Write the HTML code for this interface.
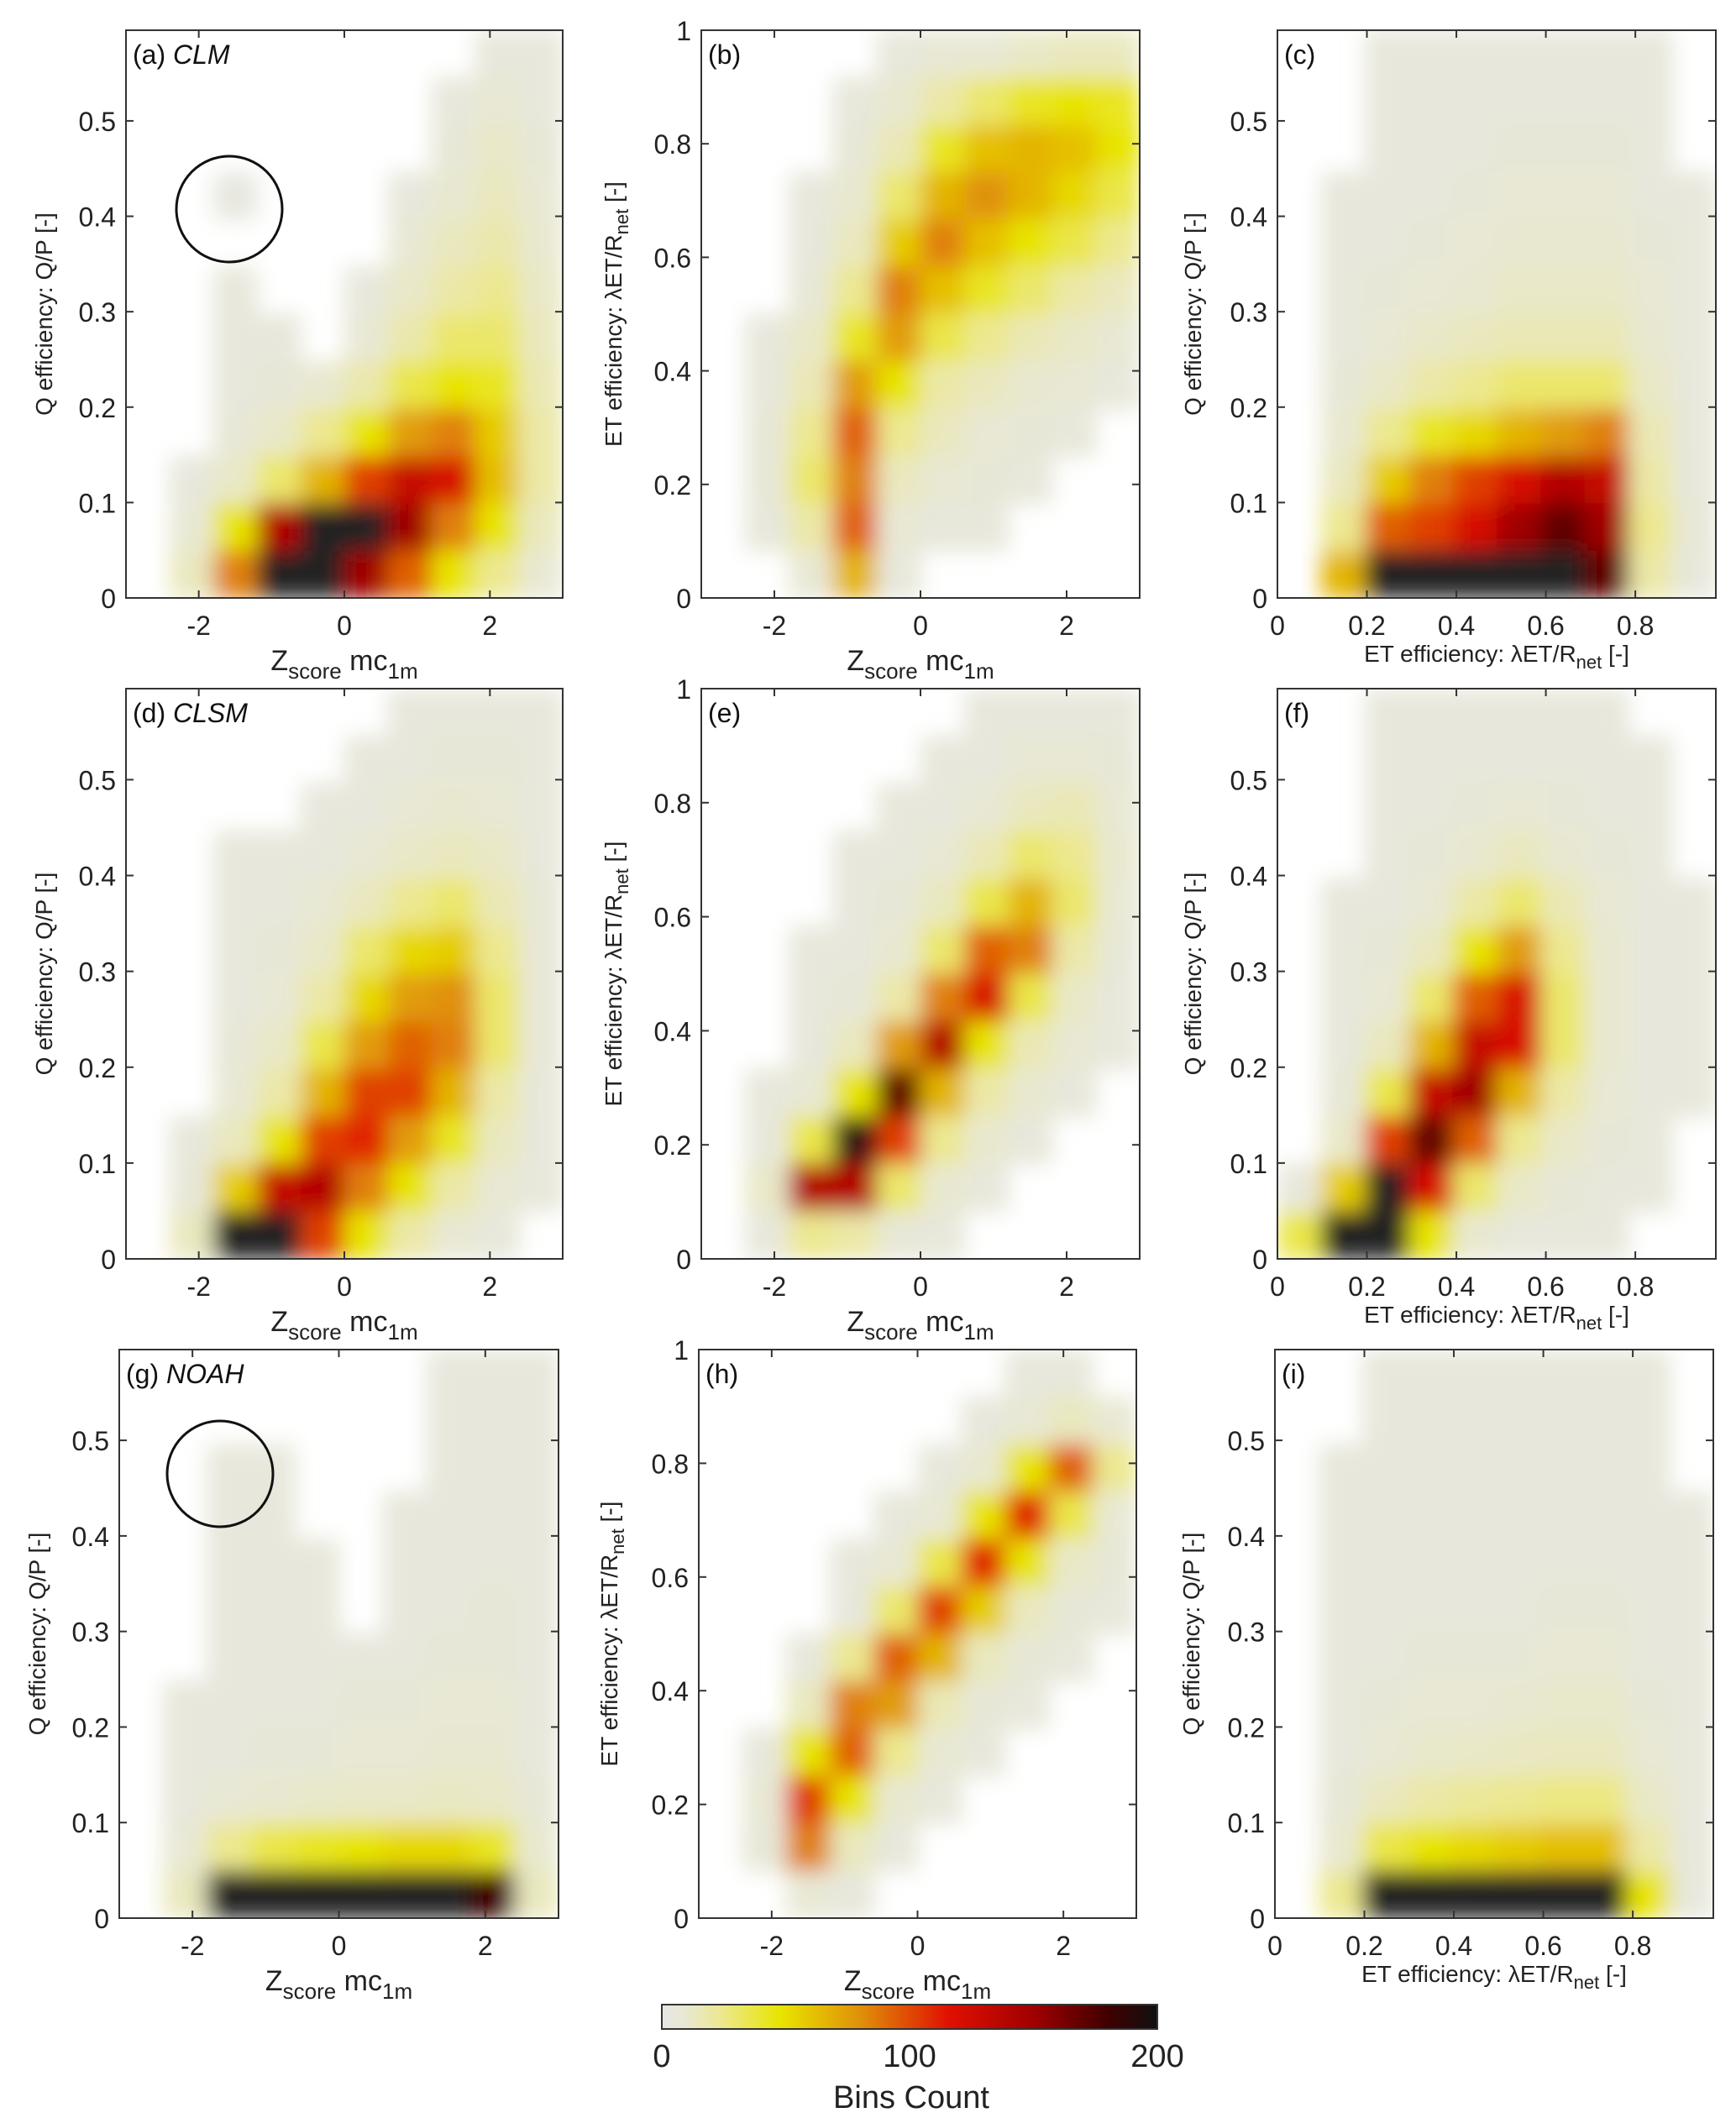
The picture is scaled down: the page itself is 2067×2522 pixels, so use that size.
<!DOCTYPE html>
<html><head><meta charset="utf-8">
<style>
html,body{margin:0;padding:0;background:#fff;}
svg{display:block;font-family:"Liberation Sans","DejaVu Sans",sans-serif;}
</style></head>
<body>
<svg id="fig" width="2067" height="2522" viewBox="0 0 2067 2522" xmlns="http://www.w3.org/2000/svg">
<defs id="defs">
<linearGradient id="cbg" x1="0" x2="1" y1="0" y2="0">
<stop offset="0" stop-color="#e6e6e6"/><stop offset="0.05" stop-color="#e8e8d0"/><stop offset="0.12" stop-color="#ece890"/><stop offset="0.24" stop-color="#e8e400"/><stop offset="0.4" stop-color="#e0900a"/><stop offset="0.58" stop-color="#e01000"/><stop offset="0.75" stop-color="#a00000"/><stop offset="0.9" stop-color="#400000"/><stop offset="1" stop-color="#101010"/>
</linearGradient>
<filter id="soft" x="-5%" y="-5%" width="110%" height="110%"><feGaussianBlur stdDeviation="13"/></filter>
</defs>
</svg>
<script>
// ---- data: bins count grids (rows top->bottom, 10 columns; -1 = no data) ----
const panelA=[[-1,-1,-1,-1,-1,-1,-1,-1,3,3],[-1,-1,-1,-1,-1,-1,-1,3,5,3],[-1,-1,-1,-1,-1,-1,-1,4,8,4],[-1,-1,2,-1,-1,-1,3,6,10,5],[-1,-1,-1,-1,-1,-1,5,10,14,6],[-1,-1,3,-1,-1,3,8,15,20,8],[-1,-1,3,3,-1,5,14,25,25,10],[-1,-1,3,4,6,14,30,40,35,12],[-1,-1,4,8,20,40,70,80,50,15],[-1,3,8,25,60,100,130,120,55,15],[-1,5,40,140,200,200,150,80,40,10],[-1,10,80,200,200,150,90,40,20,5]];
const panelB=[[-1,-1,-1,-1,3,5,5,8,10,10],[-1,-1,-1,3,6,15,25,35,40,35],[-1,-1,-1,4,12,35,55,60,55,40],[-1,-1,3,6,25,60,75,60,45,30],[-1,-1,3,10,50,80,55,40,30,20],[-1,-1,4,20,80,55,35,25,15,10],[-1,3,8,35,70,30,20,12,8,5],[-1,3,12,70,40,15,10,6,5,3],[-1,4,20,90,20,10,5,4,3,-1],[-1,4,25,80,10,5,4,3,-1,-1],[-1,3,15,90,5,3,3,-1,-1,-1],[-1,-1,5,60,3,-1,-1,-1,-1,-1]];
const panelC=[[-1,-1,3,3,3,3,3,3,3,-1],[-1,-1,3,3,3,3,3,3,3,-1],[-1,-1,3,3,3,4,4,4,3,-1],[-1,3,3,3,4,5,5,5,3,3],[-1,3,3,4,5,6,6,6,4,3],[-1,3,4,5,6,8,8,8,5,3],[-1,3,5,8,10,12,12,12,6,3],[-1,4,8,15,20,25,25,25,8,3],[-1,6,20,35,45,60,70,80,12,3],[-1,10,50,80,100,120,140,130,15,3],[-1,20,90,100,120,150,170,150,20,4],[-1,60,200,200,200,200,200,170,15,3]];
const panelD=[[-1,-1,-1,-1,-1,-1,3,3,3,3],[-1,-1,-1,-1,-1,3,3,4,4,3],[-1,-1,-1,-1,3,3,5,6,5,3],[-1,-1,3,3,3,5,8,10,8,3],[-1,-1,3,3,5,10,20,25,12,4],[-1,-1,3,4,8,25,45,50,20,4],[-1,-1,3,5,15,45,70,75,25,4],[-1,-1,4,8,30,70,90,80,25,4],[-1,-1,5,15,60,100,100,60,15,3],[-1,3,10,40,100,110,70,35,10,3],[-1,4,50,130,140,80,40,15,5,3],[-1,10,200,200,100,40,15,5,3,-1]];
const panelE=[[-1,-1,-1,-1,-1,-1,3,3,3,3],[-1,-1,-1,-1,-1,3,3,5,5,4],[-1,-1,-1,-1,3,3,5,10,12,5],[-1,-1,-1,3,3,5,12,25,20,6],[-1,-1,-1,3,4,10,30,60,25,5],[-1,-1,3,3,6,25,90,80,15,4],[-1,-1,3,4,15,80,120,30,8,3],[-1,-1,3,10,70,140,40,12,5,3],[-1,3,5,40,170,60,15,6,3,-1],[-1,3,30,190,100,20,6,3,-1,-1],[-1,8,140,140,25,6,3,-1,-1,-1],[-1,3,20,15,4,3,-1,-1,-1,-1]];
const panelF=[[-1,-1,3,3,3,3,3,3,-1,-1],[-1,-1,3,3,3,3,3,3,3,-1],[-1,-1,3,3,4,5,4,3,3,-1],[-1,-1,3,4,6,10,6,4,3,-1],[-1,3,3,5,15,25,12,5,3,3],[-1,3,4,10,40,70,20,6,3,3],[-1,3,5,25,90,120,25,6,3,3],[-1,3,10,60,130,120,25,6,3,3],[-1,4,30,130,150,60,15,5,3,3],[-1,8,100,170,90,20,8,4,3,-1],[3,50,200,120,25,8,4,3,3,-1],[30,200,200,40,6,3,3,3,-1,-1]];
const panelG=[[-1,-1,-1,-1,-1,-1,-1,3,3,3],[-1,-1,-1,-1,-1,-1,-1,3,3,3],[-1,-1,3,3,-1,-1,-1,3,3,3],[-1,-1,3,3,-1,-1,3,3,3,3],[-1,-1,3,3,3,-1,3,3,3,3],[-1,-1,3,3,3,-1,3,3,4,3],[-1,-1,3,3,3,3,3,4,4,3],[-1,3,3,3,3,4,4,5,5,3],[-1,3,3,4,4,5,5,6,6,3],[-1,3,5,6,7,8,8,9,8,4],[-1,5,20,30,35,40,45,45,35,6],[-1,10,200,200,200,200,200,200,180,10]];
const panelH=[[-1,-1,-1,-1,-1,-1,-1,3,3,-1],[-1,-1,-1,-1,-1,-1,3,5,10,5],[-1,-1,-1,-1,-1,3,6,40,90,20],[-1,-1,-1,-1,3,5,40,110,30,5],[-1,-1,-1,3,5,30,110,40,8,4],[-1,-1,-1,3,25,100,50,10,4,3],[-1,-1,3,20,90,60,10,4,3,-1],[-1,-1,10,80,70,12,4,3,-1,-1],[-1,3,40,90,20,5,3,-1,-1,-1],[-1,5,100,40,6,3,-1,-1,-1,-1],[-1,4,80,10,3,-1,-1,-1,-1,-1],[-1,-1,5,3,-1,-1,-1,-1,-1,-1]];
const panelI=[[-1,-1,3,3,3,3,3,3,3,-1],[-1,-1,3,3,3,3,3,3,3,-1],[-1,3,3,3,3,3,3,3,3,-1],[-1,3,3,3,3,3,3,3,3,3],[-1,3,3,3,3,3,3,3,3,3],[-1,3,3,3,3,3,4,4,3,3],[-1,3,3,4,4,4,5,5,3,3],[-1,3,4,5,5,6,7,7,4,3],[-1,3,5,7,8,9,10,10,5,3],[-1,4,10,15,18,20,22,22,8,3],[-1,6,30,40,45,50,55,55,15,3],[-1,20,200,200,200,200,200,200,40,3]];
const zTicks=[-2,0,2];
const qTicks=[0,0.1,0.2,0.3,0.4,0.5];
const etTicks=[0,0.2,0.4,0.6,0.8,1];
const effTicks=[0,0.2,0.4,0.6,0.8];
const cbTicks=[0,100,200];

const NS="http://www.w3.org/2000/svg";
const svg=document.getElementById('fig');
const defs=document.getElementById('defs');
function mk(tag,attrs,parent){const e=document.createElementNS(NS,tag);for(const k in attrs)e.setAttribute(k,attrs[k]);(parent||svg).appendChild(e);return e;}
const stops=[[0,[230,230,230]],[6,[232,232,208]],[20,[236,232,144]],[40,[232,228,0]],[75,[224,144,10]],[115,[224,16,0]],[150,[160,0,0]],[180,[64,0,0]],[200,[36,36,36]]];
function cmap(v){v=Math.max(0,Math.min(200,v));for(let i=1;i<stops.length;i++){if(v<=stops[i][0]){const a=stops[i-1],b=stops[i];const t=(v-a[0])/(b[0]-a[0]);const c=a[1].map((x,j)=>Math.round(x+(b[1][j]-x)*t));return 'rgb('+c.join(',')+')';}}return 'rgb(36,36,36)';}
function fmt(v){return (Math.abs(v-1)<1e-9)?'1':(v===0?'0':String(+v.toFixed(1)));}

const panels=[
 {id:'a',grid:panelA,L:150,T:36,R:670,B:712,x0:-3,x1:3,y0:0,y1:0.595,xt:zTicks,yt:qTicks,kind:'z',yl:'q',ylx:52,tag:'(a) ',tagI:'CLM'},
 {id:'b',grid:panelB,L:835,T:36,R:1357,B:712,x0:-3,x1:3,y0:0,y1:1,xt:zTicks,yt:etTicks,kind:'z',yl:'et',ylx:730,tag:'(b)',tagI:''},
 {id:'c',grid:panelC,L:1521,T:36,R:2043,B:712,x0:0,x1:0.98,y0:0,y1:0.595,xt:effTicks,yt:qTicks,kind:'e',yl:'q',ylx:1420,tag:'(c)',tagI:''},
 {id:'d',grid:panelD,L:150,T:820,R:670,B:1499,x0:-3,x1:3,y0:0,y1:0.595,xt:zTicks,yt:qTicks,kind:'z',yl:'q',ylx:52,tag:'(d) ',tagI:'CLSM'},
 {id:'e',grid:panelE,L:835,T:820,R:1357,B:1499,x0:-3,x1:3,y0:0,y1:1,xt:zTicks,yt:etTicks,kind:'z',yl:'et',ylx:730,tag:'(e)',tagI:''},
 {id:'f',grid:panelF,L:1521,T:820,R:2043,B:1499,x0:0,x1:0.98,y0:0,y1:0.595,xt:effTicks,yt:qTicks,kind:'e',yl:'q',ylx:1420,tag:'(f)',tagI:''},
 {id:'g',grid:panelG,L:142,T:1607,R:665,B:2284,x0:-3,x1:3,y0:0,y1:0.595,xt:zTicks,yt:qTicks,kind:'z',yl:'q',ylx:44,tag:'(g) ',tagI:'NOAH'},
 {id:'h',grid:panelH,L:832,T:1607,R:1353,B:2284,x0:-3,x1:3,y0:0,y1:1,xt:zTicks,yt:etTicks,kind:'z',yl:'et',ylx:725,tag:'(h)',tagI:''},
 {id:'i',grid:panelI,L:1518,T:1607,R:2040,B:2284,x0:0,x1:0.98,y0:0,y1:0.595,xt:effTicks,yt:qTicks,kind:'e',yl:'q',ylx:1418,tag:'(i)',tagI:''}
];

panels.forEach(p=>{
 const g=mk('g',{});
 
 
 const cp=mk('clipPath',{id:'clip-'+p.id},defs);
 mk('rect',{x:p.L,y:p.T,width:p.R-p.L,height:p.B-p.T},cp);
 const clipG=mk('g',{'clip-path':'url(#clip-'+p.id+')'},g);
 const cells=mk('g',{filter:'url(#soft)'},clipG);
 
 
 const sx=v=>p.L+(v-p.x0)/(p.x1-p.x0)*(p.R-p.L);
 const sy=v=>p.B-(v-p.y0)/(p.y1-p.y0)*(p.B-p.T);
 const rows=p.grid.length, cols=p.grid[0].length;
 const dx=(p.x1-p.x0)/cols, dy=(p.y1-p.y0)/rows;
 p.grid.forEach((row,r)=>row.forEach((v,c)=>{
  if(v<0)return;
  const xa=sx(p.x0+c*dx), xb=sx(p.x0+(c+1)*dx);
  const ya=sy(p.y1-r*dy), yb=sy(p.y1-(r+1)*dy);
  const cell=mk('rect',{x:xa,y:ya,width:xb-xa+0.8,height:yb-ya+0.8,fill:cmap(v)},cells);
  
  
 }));
 const box=mk('rect',{x:p.L,y:p.T,width:p.R-p.L,height:p.B-p.T,fill:'none',stroke:'#333','stroke-width':2},g);
 
 
 p.xt.forEach(t=>{
  const x=sx(t);
  mk('line',{x1:x,x2:x,y1:p.B,y2:p.B-9,stroke:'#333','stroke-width':2},g);
  mk('line',{x1:x,x2:x,y1:p.T,y2:p.T+9,stroke:'#333','stroke-width':2},g);
  const tl=mk('text',{x:x,y:p.B+44,'font-size':32,'text-anchor':'middle',fill:'#222'},g);
  tl.textContent=p.kind==='z'?String(t):fmt(t);
  
  
 });
 p.yt.forEach(t=>{
  const y=sy(t);
  mk('line',{x1:p.L,x2:p.L+9,y1:y,y2:y,stroke:'#333','stroke-width':2},g);
  mk('line',{x1:p.R,x2:p.R-9,y1:y,y2:y,stroke:'#333','stroke-width':2},g);
  const tl=mk('text',{x:p.L-12,y:y+12,'font-size':32,'text-anchor':'end',fill:'#222'},g);
  tl.textContent=fmt(t);
  
  
 });
 const cx=(p.L+p.R)/2;
 if(p.kind==='z'){
  const xl=mk('text',{x:cx,y:p.B+86,'font-size':34,'text-anchor':'middle',fill:'#222'},g);
  xl.innerHTML='Z<tspan font-size="26" dy="10">score</tspan><tspan dy="-10"> mc</tspan><tspan font-size="26" dy="10">1m</tspan>';
  
  
 } else {
  const xl=mk('text',{x:cx,y:p.B+76,'font-size':28,'text-anchor':'middle',fill:'#222'},g);
  xl.innerHTML='ET efficiency: λET/R<tspan font-size="22" dy="8">net</tspan><tspan dy="-8"> [-]</tspan>';
  
  
 }
 const cy=(p.T+p.B)/2;
 const yl=mk('text',{x:0,y:0,'font-size':28,'text-anchor':'middle',fill:'#222',transform:'translate('+(p.ylx+10)+','+cy+') rotate(-90)'},g);
 if(p.yl==='q') yl.textContent='Q efficiency: Q/P [-]';
 else yl.innerHTML='ET efficiency: λET/R<tspan font-size="22" dy="8">net</tspan><tspan dy="-8"> [-]</tspan>';
 
 
 const tg=mk('text',{x:p.L+8,y:p.T+40,'font-size':32,fill:'#111'},g);
 tg.innerHTML=p.tag+(p.tagI?'<tspan font-style="italic">'+p.tagI+'</tspan>':'');
 
 
});

[[273,249],[262,1755]].forEach(c=>{
 const ci=mk('circle',{cx:c[0],cy:c[1],r:63,fill:'none',stroke:'#111','stroke-width':3});
 
 
});

const cbL=788,cbR=1378,cbT=2387,cbB=2416;
const cb=mk('rect',{x:cbL,y:cbT,width:cbR-cbL,height:cbB-cbT,fill:'url(#cbg)',stroke:'#333','stroke-width':2});


cbTicks.forEach(t=>{
 const x=cbL+t/200*(cbR-cbL);
 const tl=mk('text',{x:x,y:2461,'font-size':38,'text-anchor':'middle',fill:'#222'});
 tl.textContent=String(t);
 
 
});
const bc=mk('text',{x:1085,y:2510,'font-size':38,'text-anchor':'middle',fill:'#222'});
bc.textContent='Bins Count';


</script>
</body></html>
